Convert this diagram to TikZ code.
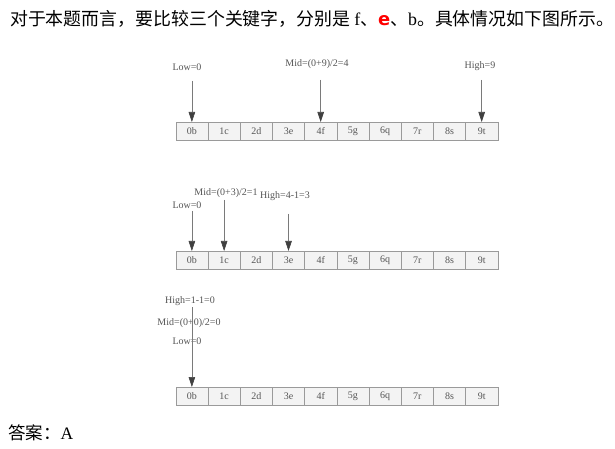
\documentclass[tikz,border=0pt]{standalone}
\usepackage{fontspec}
\setmainfont{Liberation Serif}
\newfontfamily\cjk{Noto Sans CJK SC}
\newfontfamily\redfont{DejaVu Sans}
\usetikzlibrary{arrows.meta}
\definecolor{cellfill}{HTML}{F3F3F3}
\definecolor{cellline}{HTML}{9A9A9A}
\definecolor{arrline}{HTML}{7A7A7A}
\definecolor{lbltext}{HTML}{555555}
\tikzset{
  cellbox/.style={draw=cellline, fill=cellfill, line width=0.6bp, minimum width=32.2bp, minimum height=18bp, inner sep=0pt, anchor=north west, font=\fontsize{10bp}{12bp}\selectfont, text=lbltext},
  lbl/.style={font=\fontsize{10bp}{12bp}\selectfont, text=lbltext, inner sep=0pt},
  ptr/.style={draw=arrline, line width=0.6bp, -{Triangle[width=6.5bp,length=10bp,fill=black!75,color=black!75]}},
  heading/.style={font=\fontsize{17.9bp}{21bp}\selectfont, inner sep=0pt, anchor=west}
}
\begin{document}
\begin{tikzpicture}[x=1bp,y=-1bp]
\useasboundingbox[fill=white] (0,0) rectangle (615,449);
% heading
\node[heading] (head) at (10,19) {\cjk 对于本题而言，要比较三个关键字，分别是 \rmfamily f\cjk 、\textcolor{red}{\redfont\bfseries e}\cjk 、\rmfamily b\cjk 。具体情况如下图所示。};
% arrays
\foreach \r/\top in {1/122, 2/251, 3/387} {
  \foreach \i/\t in {0/0b,1/1c,2/2d,3/3e,4/4f,5/5g,6/6q,7/7r,8/8s,9/9t} {
    \node[cellbox] (r\r c\i) at ({175.5+32.2*\i},\top) {\t};
  }
}
% row 1
\node[lbl] (l1low) at (187,67) {Low=0};
\node[lbl] (l1mid) at (317,64) {Mid=(0+9)/2=4};
\node[lbl] (l1high) at (480,66) {High=9};
\coordinate (s1low) at (r1c0.north |- 0,81);
\coordinate (s1mid) at (r1c4.north |- 0,80);
\coordinate (s1high) at (r1c9.north |- 0,80);
\draw[ptr] (s1low) -- (r1c0.north);
\draw[ptr] (s1mid) -- (r1c4.north);
\draw[ptr] (s1high) -- (r1c9.north);
% row 2
\node[lbl] (l2mid) at (226,193) {Mid=(0+3)/2=1};
\node[lbl] (l2low) at (187,205) {Low=0};
\node[lbl] (l2high) at (285,196) {High=4-1=3};
\coordinate (s2low) at (r2c0.north |- 0,211);
\coordinate (s2mid) at (r2c1.north |- 0,200);
\coordinate (s2high) at (r2c3.north |- 0,214);
\draw[ptr] (s2low) -- (r2c0.north);
\draw[ptr] (s2mid) -- (r2c1.north);
\draw[ptr] (s2high) -- (r2c3.north);
% row 3
\node[lbl] (l3high) at (190,301) {High=1-1=0};
\node[lbl] (l3mid) at (189,323) {Mid=(0+0)/2=0};
\node[lbl] (l3low) at (187,341) {Low=0};
\coordinate (s3) at (r3c0.north |- 0,307);
\draw[ptr] (s3) -- (r3c0.north);
% answer
\node[heading, font=\fontsize{17.5bp}{21bp}\selectfont] (ans) at (8,433) {\cjk 答案：\rmfamily A};
\end{tikzpicture}
\end{document}
